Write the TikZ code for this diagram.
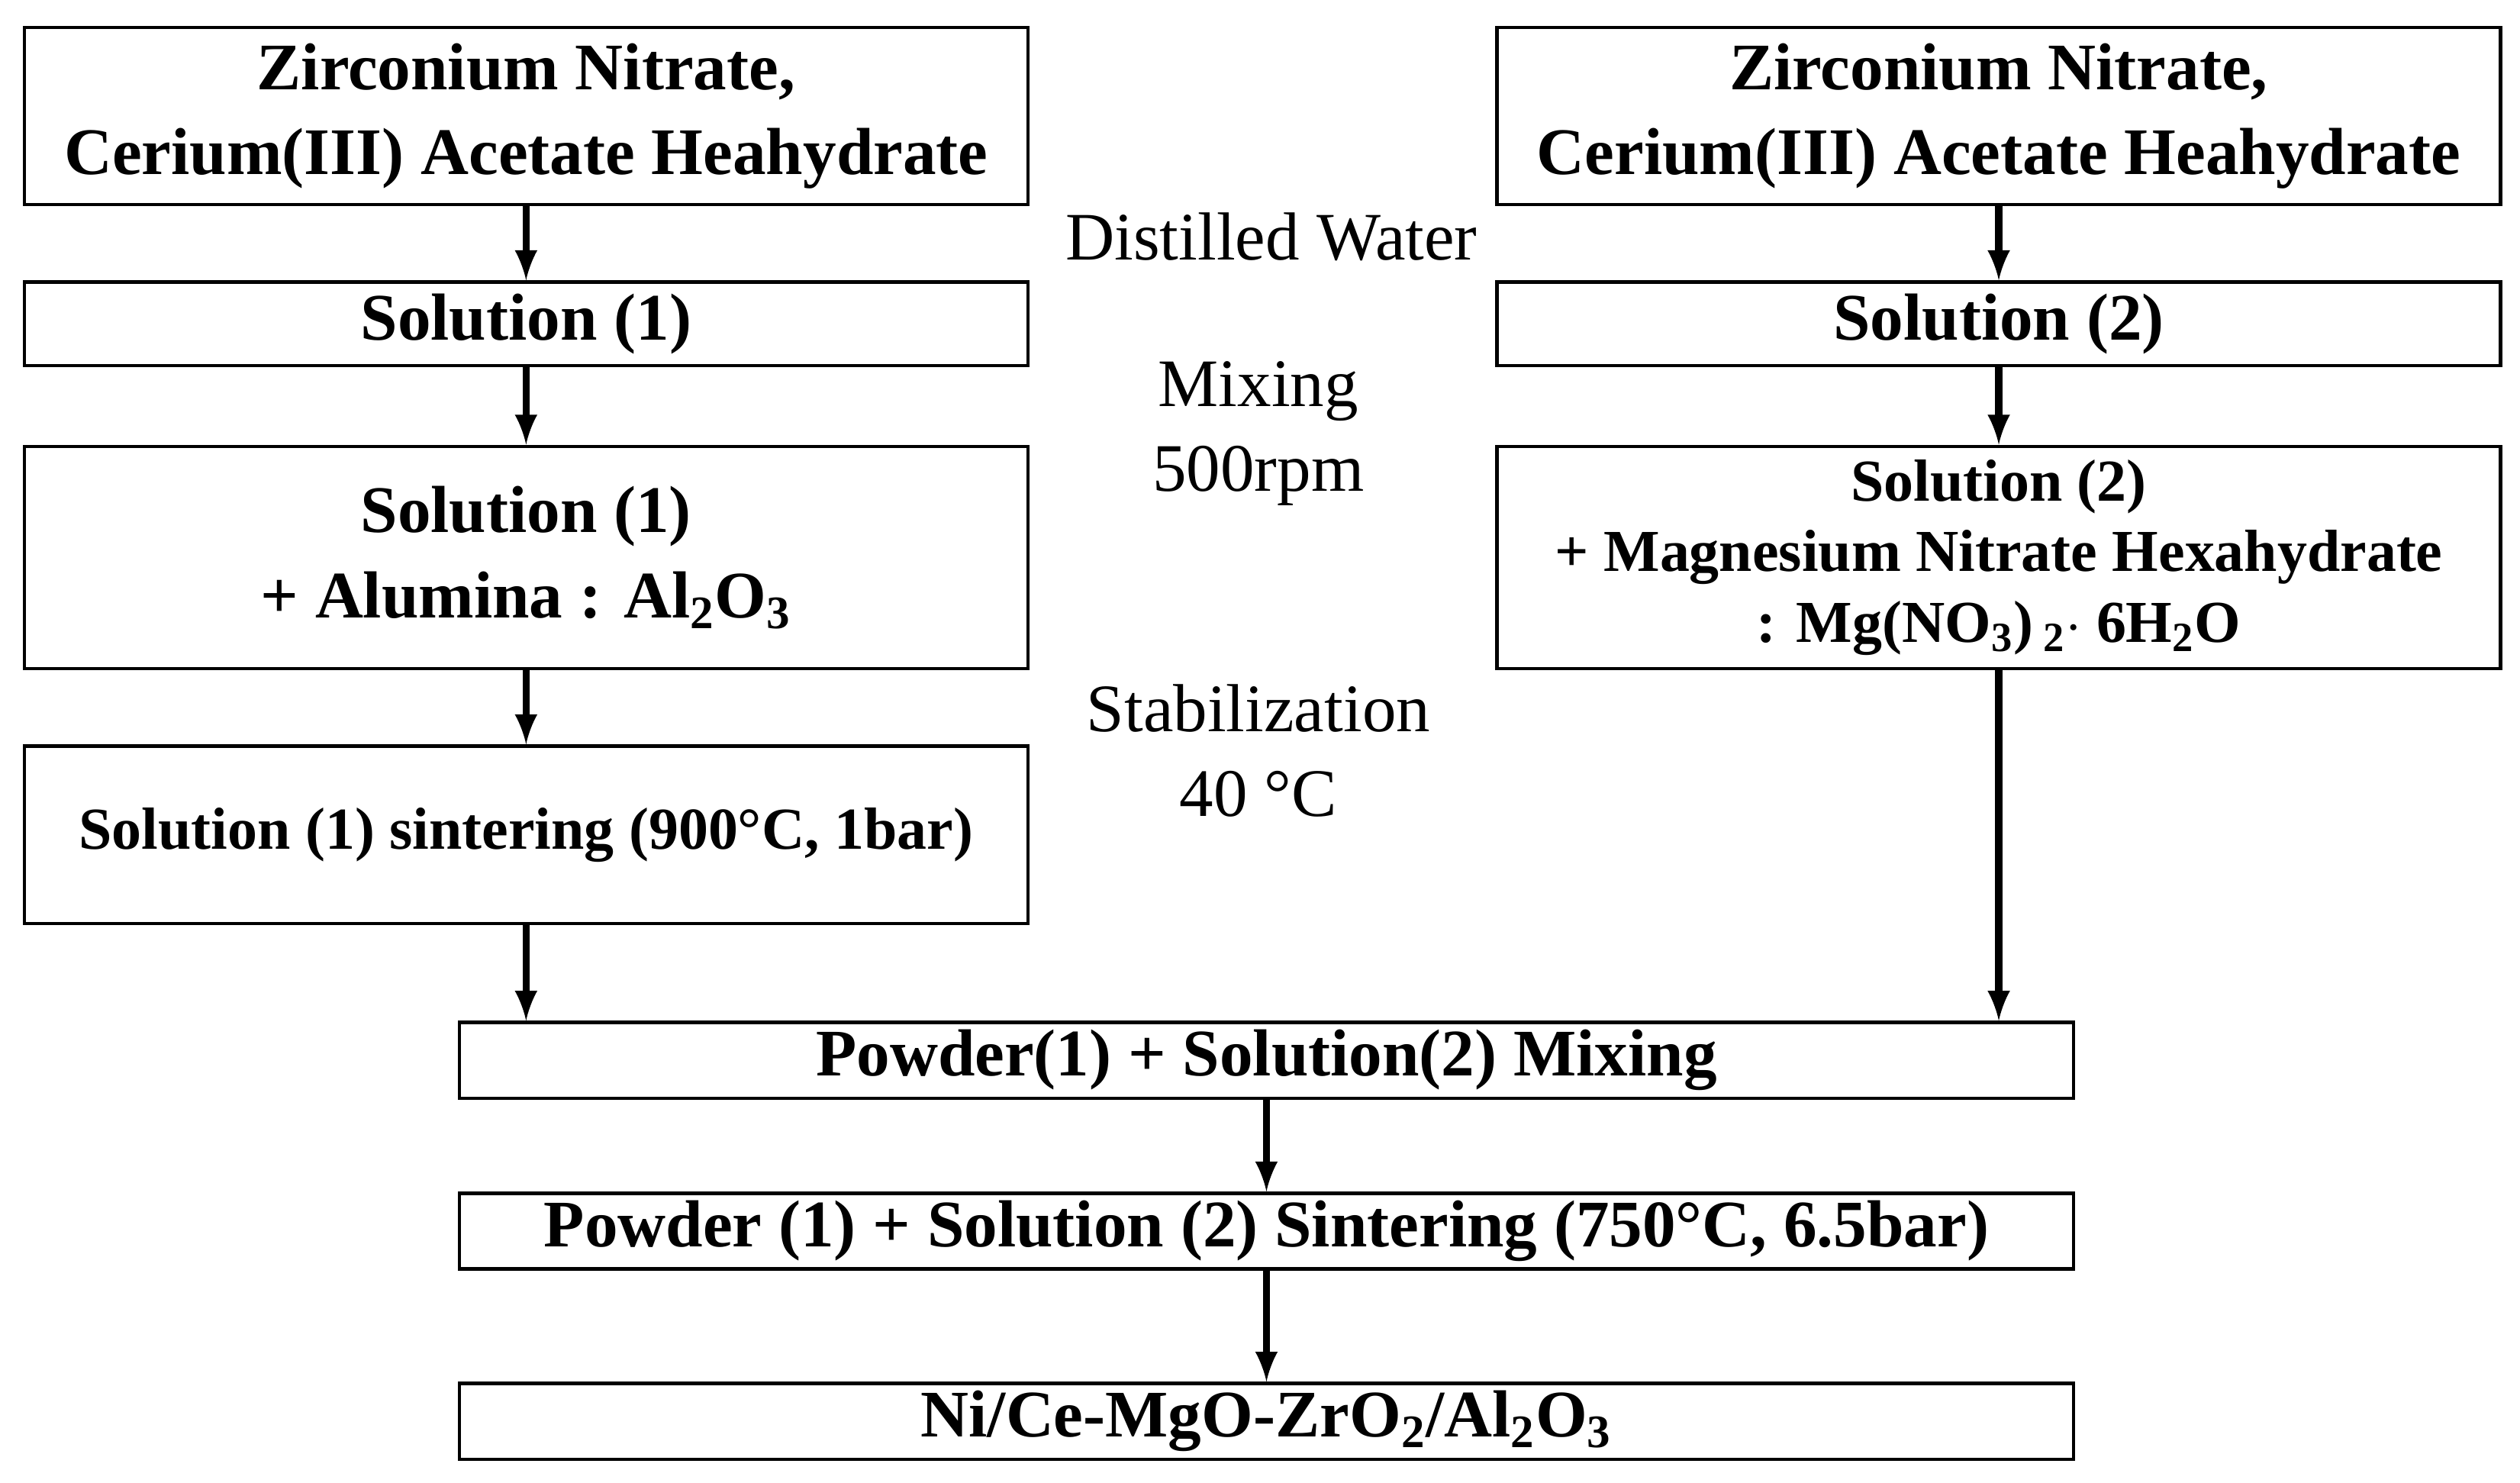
\documentclass[tikz,border=0pt]{standalone}
\usepackage{fontspec}
\setmainfont{Liberation Serif}
\usetikzlibrary{positioning}
\tikzset{
  box/.style={rectangle, draw=black, line width=1.2pt, align=center, font=\fontsize{23.5}{30}\selectfont\bfseries, inner sep=0pt},
  side/.style={align=center, font=\fontsize{24}{30}\selectfont},
  flow/.style={-latex, line width=2.6pt}
}
\newcommand{\sub}[1]{\textsubscript{#1}}
\begin{document}
\begin{tikzpicture}[x=0.02cm, y=-0.02cm]
    \useasboundingbox (0,0) rectangle (1564,920);

    % left column
    \node [box, minimum width=12.46cm, minimum height=2.2cm] (zna) at (326.5,72) {Zirconium Nitrate,\\Cerium(III) Acetate Heahydrate};
    \node [box, minimum width=12.46cm, minimum height=1.04cm] (sola) at (326.5,201) {Solution (1)};
    \node [box, minimum width=12.46cm, minimum height=2.76cm] (alu) at (326.5,346) {Solution (1)\\+ Alumina : Al\sub{2}O\sub{3}};
    \node [box, minimum width=12.46cm, minimum height=2.2cm] (sint) at (326.5,518) {\fontsize{21}{26}\selectfont Solution (1) sintering (900\textdegree C, 1bar)};

    % right column
    \node [box, minimum width=12.46cm, minimum height=2.2cm] (znb) at (1240.5,72) {Zirconium Nitrate,\\Cerium(III) Acetate Heahydrate};
    \node [box, minimum width=12.46cm, minimum height=1.04cm] (solb) at (1240.5,201) {Solution (2)};
    \node [box, minimum width=12.46cm, minimum height=2.76cm, font=\fontsize{21}{25}\selectfont\bfseries] (mag) at (1240.5,346) {Solution (2)\\+ Magnesium Nitrate Hexahydrate\\: Mg(NO\sub{3})\,\sub{2}$\cdot$ 6H\sub{2}O};

    % bottom
    \node [box, minimum width=20.04cm, minimum height=0.94cm] (mix) at (786,658) {Powder(1) + Solution(2) Mixing};
    \node [box, minimum width=20.04cm, minimum height=0.94cm] (psint) at (786,764) {Powder (1) + Solution (2) Sintering (750\textdegree C, 6.5bar)};
    \node [box, minimum width=20.04cm, minimum height=0.94cm] (prod) at (786,882) {Ni/Ce-MgO-ZrO\sub{2}/Al\sub{2}O\sub{3}};

    % side labels
    \node [side] (water) at (789,147) {Distilled Water};
    \node [side] (mixing) at (781,269) {Mixing\\500rpm};
    \node [side] (stab) at (781,466) {Stabilization\\40 \textdegree C};

    % arrows
    \draw [flow] (zna) -- (sola);
    \draw [flow] (sola) -- (alu);
    \draw [flow] (alu) -- (sint);
    \draw [flow] (sint.south) -- (sint.south |- mix.north);
    \draw [flow] (znb) -- (solb);
    \draw [flow] (solb) -- (mag);
    \draw [flow] (mag.south) -- (mag.south |- mix.north);
    \draw [flow] (mix) -- (psint);
    \draw [flow] (psint) -- (prod);
\end{tikzpicture}
\end{document}
